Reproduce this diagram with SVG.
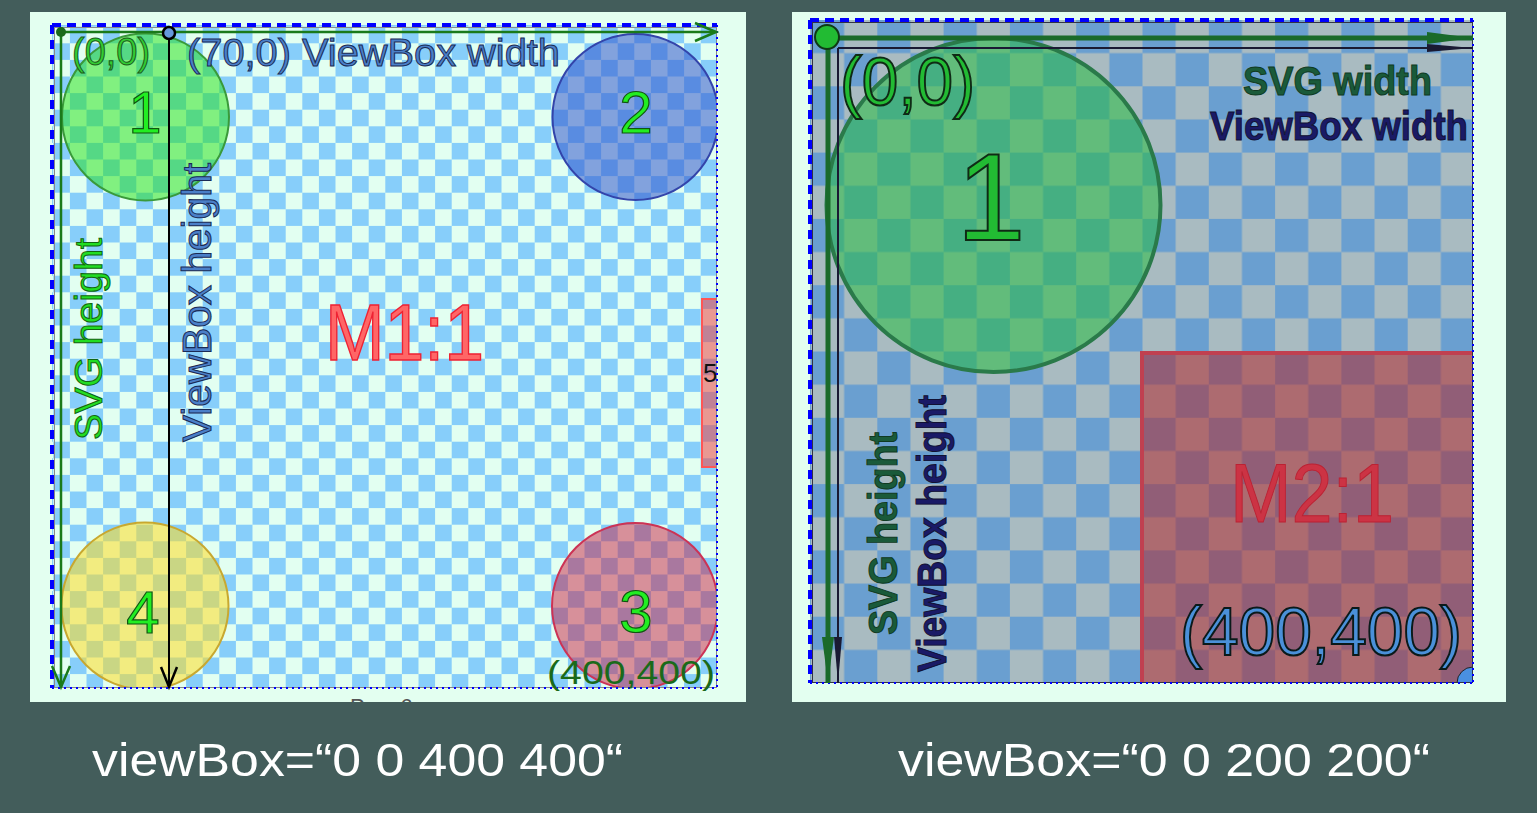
<svg xmlns="http://www.w3.org/2000/svg" width="1537" height="813" viewBox="0 0 1537 813">
  <style>
    text { font-family: "Liberation Sans", Arial, sans-serif; }
    .num { font-size: 60px; fill: #22ee22; stroke: #115511; stroke-width: 1.2; text-anchor: middle; }
    .lg { fill: #33cc33; stroke: #1a5a1a; stroke-width: 1; }
    .lb { fill: #4a7fc8; stroke: #1a2a55; stroke-width: 1; }
    .rg { fill: #1a5a3a; stroke: #0f3a22; stroke-width: 1; font-weight: bold; }
    .rb { fill: #1a1a66; stroke: #111133; stroke-width: 1; font-weight: bold; }
    .cap { font-size: 46px; fill: #ffffff; }
    .bdash { fill: none; stroke: #0000ff; stroke-width: 4; stroke-dasharray: 9 6; }
    .bdot { fill: none; stroke: #0000ff; stroke-width: 2; stroke-dasharray: 2 4; }
  </style>
  <defs>
    <pattern id="patL" patternUnits="userSpaceOnUse" x="53.3" y="26.7" width="33.2" height="33.2">
      <rect width="33.2" height="33.2" fill="#e2fff1"/>
      <rect x="16.6" y="0" width="16.6" height="16.6" fill="#87cefa"/>
      <rect x="0" y="16.6" width="16.6" height="16.6" fill="#87cefa"/>
    </pattern>
    <pattern id="patR" patternUnits="userSpaceOnUse" x="811" y="20" width="66.3" height="66.3">
      <rect width="66.3" height="66.3" fill="#6a9fd0"/>
      <rect x="33.15" y="0" width="33.15" height="33.15" fill="#a9bbc1"/>
      <rect x="0" y="33.15" width="33.15" height="33.15" fill="#a9bbc1"/>
    </pattern>
    <clipPath id="clipL"><rect x="52" y="25" width="665" height="663"/></clipPath>
    <clipPath id="clipR"><rect x="810" y="20" width="663" height="663"/></clipPath>
    <clipPath id="clipPanelL"><rect x="30" y="12" width="716" height="690"/></clipPath>
    <marker id="openG" markerUnits="userSpaceOnUse" markerWidth="26" markerHeight="22" refX="22" refY="11" orient="auto" overflow="visible">
      <path d="M1,2 L22,11 L1,20" fill="none" stroke="#1a7a1a" stroke-width="2.5"/>
    </marker>
    <marker id="openK" markerUnits="userSpaceOnUse" markerWidth="26" markerHeight="22" refX="22" refY="11" orient="auto" overflow="visible">
      <path d="M2,3 L22,11 L2,19" fill="none" stroke="#000000" stroke-width="2.5"/>
    </marker>
    <marker id="fillG" markerUnits="userSpaceOnUse" markerWidth="48" markerHeight="14" refX="46" refY="7" orient="auto" overflow="visible">
      <path d="M0,1 L46,7 L0,13 Z" fill="#1a6a2a"/>
    </marker>
    <marker id="fillK" markerUnits="userSpaceOnUse" markerWidth="48" markerHeight="12" refX="46" refY="6" orient="auto" overflow="visible">
      <path d="M0,2 L46,6 L0,10 Z" fill="#1a1a33"/>
    </marker>
  </defs>

  <rect width="1537" height="813" fill="#435d5b"/>

  <!-- LEFT PANEL -->
  <g id="left-panel">
    <rect x="30" y="12" width="716" height="690" fill="#e3fff0"/>
    <text x="350" y="714" font-size="22" fill="#555555" clip-path="url(#clipPanelL)">Рис. 6</text>
    <rect x="52" y="25" width="665" height="663" fill="url(#patL)"/>
    <g clip-path="url(#clipL)">
      <g id="circle-1-left">
        <circle cx="145.5" cy="117" r="83.5" fill="#28e219" fill-opacity="0.52" stroke="#3a9a3a" stroke-width="2"/>
      </g>
      <g id="circle-2-left">
        <circle cx="635.5" cy="117" r="83" fill="#3355cc" fill-opacity="0.55" stroke="#3344aa" stroke-width="2"/>
      </g>
      <g id="circle-3-left">
        <circle cx="635" cy="606" r="83" fill="#cc2244" fill-opacity="0.5" stroke="#cc3355" stroke-width="2"/>
      </g>
      <g id="circle-4-left">
        <circle cx="145" cy="606" r="83.5" fill="#ffdd22" fill-opacity="0.55" stroke="#c8a830" stroke-width="2"/>
      </g>
      <g id="rect-5-left">
        <rect x="702" y="299" width="40" height="168" fill="#ee4444" fill-opacity="0.55" stroke="#ff5555" stroke-width="2"/>
        <text x="703" y="382" font-size="26" fill="#111111">5</text>
      </g>
    </g>
    <rect x="54.5" y="27.5" width="662" height="660" fill="none" stroke="#888888" stroke-width="1"/>
    <line x1="52" y1="25" x2="717" y2="25" class="bdash"/>
    <line x1="52" y1="25" x2="52" y2="688" class="bdash"/>
    <line x1="717" y1="25" x2="717" y2="688" class="bdot"/>
    <line x1="52" y1="688" x2="717" y2="688" class="bdot"/>

    <g id="connectors-left">
      <line x1="61" y1="32" x2="716" y2="32" stroke="#1a7a1a" stroke-width="2.5" marker-end="url(#openG)"/>
      <line x1="61" y1="32" x2="61" y2="687" stroke="#1a7a1a" stroke-width="2.5" marker-end="url(#openG)"/>
      <line x1="169" y1="33" x2="169" y2="687" stroke="#000000" stroke-width="2" marker-end="url(#openK)"/>
    </g>
    <g id="origin-dot-left"><circle cx="61" cy="32" r="5" fill="#1a6a1a"/></g>
    <g id="viewbox-dot-left"><circle cx="169" cy="33" r="6" fill="#6699dd" stroke="#000000" stroke-width="2.5"/></g>

    <text x="145" y="133" class="num">1</text>
    <text x="636" y="133" class="num">2</text>
    <text x="636" y="632" class="num">3</text>
    <text x="143" y="633" class="num">4</text>
    <text x="72" y="65" font-size="38" class="lg">(0,0)</text>
    <text x="187" y="66" font-size="39" class="lb" textLength="373" lengthAdjust="spacingAndGlyphs">(70,0) ViewBox width</text>
    <text transform="translate(102,440) rotate(-90)" font-size="39" fill="#22dd22" stroke="#116611" stroke-width="1" textLength="202" lengthAdjust="spacingAndGlyphs">SVG height</text>
    <text transform="translate(211,442) rotate(-90)" font-size="40" class="lb" textLength="279" lengthAdjust="spacingAndGlyphs">ViewBox height</text>
    <text x="325" y="360" font-size="80" fill="#ff6666" stroke="#ee2233" stroke-width="1.5" textLength="159" lengthAdjust="spacingAndGlyphs">M1:1</text>
    <text x="547" y="684" font-size="34" fill="#1a6a1a" textLength="168" lengthAdjust="spacingAndGlyphs">(400,400)</text>
  </g>

  <!-- RIGHT PANEL -->
  <g id="right-panel">
    <rect x="792" y="12" width="714" height="690" fill="#e3fff0"/>
    <rect x="810" y="20" width="663" height="663" fill="url(#patR)"/>
    <g clip-path="url(#clipR)">
      <g id="circle-1-right">
        <circle cx="993.5" cy="205" r="167" fill="#26bd41" fill-opacity="0.54" stroke="#2a7a4a" stroke-width="4"/>
      </g>
      <g id="rect-right">
        <rect x="1142" y="353" width="400" height="400" fill="#b02d33" fill-opacity="0.57" stroke="#c04050" stroke-width="4"/>
      </g>
      <g id="corner-dot-right">
        <circle cx="1473" cy="683" r="16" fill="#4a90e0" stroke="#222222" stroke-width="1"/>
      </g>
    </g>
    <rect x="812.5" y="22.5" width="660" height="660" fill="none" stroke="#333344" stroke-width="1"/>
    <line x1="810" y1="20" x2="1473" y2="20" class="bdash"/>
    <line x1="810" y1="20" x2="810" y2="683" class="bdash"/>
    <line x1="1473" y1="20" x2="1473" y2="683" class="bdot"/>
    <line x1="810" y1="683" x2="1473" y2="683" class="bdot"/>

    <g id="connectors-right">
      <line x1="828" y1="38" x2="1473" y2="38" stroke="#1a6a2a" stroke-width="5" marker-end="url(#fillG)"/>
      <line x1="838" y1="48" x2="1473" y2="48" stroke="#1a1a33" stroke-width="2" marker-end="url(#fillK)"/>
      <line x1="828" y1="38" x2="828" y2="683" stroke="#1a6a2a" stroke-width="5" marker-end="url(#fillG)"/>
      <line x1="838" y1="48" x2="838" y2="683" stroke="#1a1a33" stroke-width="2" marker-end="url(#fillK)"/>
    </g>
    <g id="origin-dot-right"><circle cx="827" cy="37" r="12" fill="#22bb33" stroke="#0f3a15" stroke-width="2"/></g>

    <text x="840" y="105" font-size="68" fill="#22bb33" stroke="#0f2a15" stroke-width="2" textLength="135" lengthAdjust="spacingAndGlyphs">(0,0)</text>
    <text x="991" y="240" font-size="124" fill="#22bb33" stroke="#0f2a15" stroke-width="2" text-anchor="middle">1</text>
    <text x="1243" y="95" font-size="40" class="rg" textLength="189" lengthAdjust="spacingAndGlyphs">SVG width</text>
    <text x="1210" y="140" font-size="40" class="rb" textLength="258" lengthAdjust="spacingAndGlyphs">ViewBox width</text>
    <text transform="translate(897,635) rotate(-90)" font-size="40" class="rg" textLength="203" lengthAdjust="spacingAndGlyphs">SVG height</text>
    <text transform="translate(946,672) rotate(-90)" font-size="40" class="rb" textLength="277" lengthAdjust="spacingAndGlyphs">ViewBox height</text>
    <text x="1230" y="522" font-size="84" fill="#cc3344" stroke="#bb2233" stroke-width="1" textLength="164" lengthAdjust="spacingAndGlyphs">M2:1</text>
    <text x="1180" y="655" font-size="68" fill="#4a90d9" stroke="#0a1a1a" stroke-width="2" textLength="282" lengthAdjust="spacingAndGlyphs">(400,400)</text>
  </g>

  <!-- CAPTIONS -->
  <text x="92" y="776" class="cap" textLength="531" lengthAdjust="spacingAndGlyphs">viewBox=“0 0 400 400“</text>
  <text x="898" y="776" class="cap" textLength="532" lengthAdjust="spacingAndGlyphs">viewBox=“0 0 200 200“</text>
</svg>
